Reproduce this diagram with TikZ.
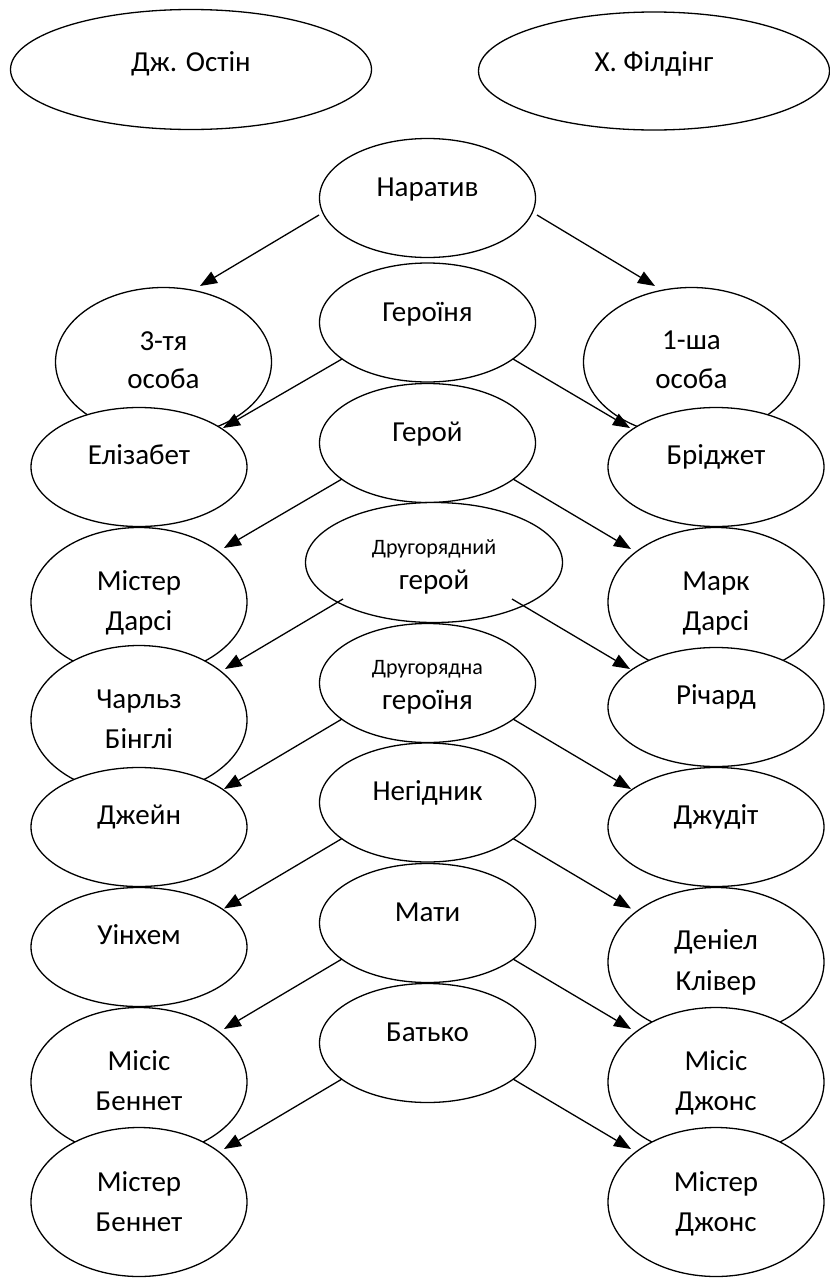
\documentclass[tikz,border=0pt]{standalone}
\usepackage{fontspec}
\setmainfont{Carlito}
\usetikzlibrary{shapes.geometric,arrows.meta,calc}
\tikzset{
  ell/.style={ellipse, draw, line width=1.3pt, fill=white, inner sep=0pt,
    minimum width=216pt, minimum height=119pt},
  tall/.style={minimum height=149pt},
  t/.style={font=\fontsize{29}{29}\selectfont, text height=18.6pt, text depth=0pt, inner sep=0pt},
  s/.style={font=\fontsize{22}{22}\selectfont, text height=14.1pt, text depth=0pt, inner sep=0pt},
  arr/.style={line width=1.3pt, -{Triangle[length=17pt,width=13pt]}},
}
\begin{document}
\begin{tikzpicture}[x=1pt,y=-1pt]
\useasboundingbox (0,0) rectangle (830,1280);
% top
\node[ell, minimum width=361pt, minimum height=120pt, label={[t,yshift=7.5pt]center:Дж. Остін}] (ostin) at (191,69.5) {};
\node[ell, minimum width=351pt, minimum height=118pt, label={[t,yshift=9pt]center:Х. Філдінг}] (fild) at (654,71) {};
% middle
\node[ell, label={[t,yshift=11pt]center:Наратив}] (nar) at (427.5,198) {};
\node[ell, label={[t,yshift=10.5pt]center:Героїня}] (her) at (427.5,322.5) {};
\node[ell, label={[t,yshift=11pt]center:Герой}] (geroj) at (427.5,443) {};
\node[ell, minimum width=257pt, minimum height=120pt, label={[s,yshift=15.5pt]center:Другорядний}, label={[t,yshift=-17.5pt]center:герой}] (dg) at (434,562.5) {};
\node[ell, label={[s,yshift=16pt]center:Другорядна}, label={[t,yshift=-17pt]center:героїня}] (dgn) at (427.5,683) {};
\node[ell, label={[t,yshift=11pt]center:Негідник}] (neg) at (427.5,802.5) {};
\node[ell, label={[t,yshift=11pt]center:Мати}] (mati) at (427.5,923) {};
\node[ell, label={[t,yshift=11pt]center:Батько}] (bat) at (427.5,1043) {};
% left column
\node[ell, tall, label={[t,yshift=21pt]center:3-тя}, label={[t,yshift=-17pt]center:особа}] (tretia) at (163.5,362) {};
\node[ell, label={[t,yshift=12pt]center:Елізабет}] (eliz) at (139,467) {};
\node[ell, tall, label={[t,yshift=21pt]center:Містер}, label={[t,yshift=-19pt]center:Дарсі}] (mdarsi) at (139,602) {};
\node[ell, tall, label={[t,yshift=21pt]center:Чарльз}, label={[t,yshift=-19pt]center:Бінглі}] (charlz) at (139,720) {};
\node[ell, label={[t,yshift=12pt]center:Джейн}] (dzhejn) at (139,827) {};
\node[ell, label={[t,yshift=12pt]center:Уінхем}] (uinh) at (139,947) {};
\node[ell, tall, label={[t,yshift=21pt]center:Місіс}, label={[t,yshift=-19pt]center:Беннет}] (misisb) at (139,1082) {};
\node[ell, tall, label={[t,yshift=20pt]center:Містер}, label={[t,yshift=-20pt]center:Беннет}] (misterb) at (139,1202) {};
% right column
\node[ell, tall, label={[t,yshift=22pt]center:1-ша}, label={[t,yshift=-17pt]center:особа}] (persha) at (691.5,362) {};
\node[ell, label={[t,yshift=12pt]center:Бріджет}] (bridzh) at (716,467) {};
\node[ell, tall, label={[t,yshift=21pt]center:Марк}, label={[t,yshift=-19pt]center:Дарсі}] (mark) at (716,602) {};
\node[ell, label={[t,yshift=12pt]center:Річард}] (richard) at (716,707) {};
\node[ell, label={[t,yshift=12pt]center:Джудіт}] (dzhudit) at (716,827) {};
\node[ell, tall, label={[t,yshift=22pt]center:Деніел}, label={[t,yshift=-19pt]center:Клівер}] (deniel) at (716,962) {};
\node[ell, tall, label={[t,yshift=21pt]center:Місіс}, label={[t,yshift=-19pt]center:Джонс}] (misisdzh) at (716,1082) {};
\node[ell, tall, label={[t,yshift=20pt]center:Містер}, label={[t,yshift=-20pt]center:Джонс}] (misterdzh) at (716,1202) {};
% arrows
\draw[arr] ($(nar.center)+(-108.5,17)$) -- ($(tretia.center)+(36.5,-76)$);
\draw[arr] ($(nar.center)+(109.5,17)$) -- ($(persha.center)+(-36.5,-76)$);
\draw[arr] ($(her.center)+(-85.5,36.5)$) -- ($(eliz.center)+(84,-39)$);
\draw[arr] ($(her.center)+(85.5,36.5)$) -- ($(bridzh.center)+(-86,-39)$);
\draw[arr] ($(geroj.center)+(-85.5,36)$) -- ($(mdarsi.center)+(85,-54)$);
\draw[arr] ($(geroj.center)+(85.5,36)$) -- ($(mark.center)+(-85,-53)$);
\draw[arr] ($(dg.center)+(-91,36.5)$) -- ($(charlz.center)+(86,-51)$);
\draw[arr] ($(dg.center)+(78,36.5)$) -- ($(richard.center)+(-86,-38)$);
\draw[arr] ($(dgn.center)+(-85.5,36)$) -- ($(dzhejn.center)+(85,-38)$);
\draw[arr] ($(dgn.center)+(85.5,36)$) -- ($(dzhudit.center)+(-85,-38)$);
\draw[arr] ($(neg.center)+(-85.5,36)$) -- ($(uinh.center)+(85,-38.5)$);
\draw[arr] ($(neg.center)+(85.5,36)$) -- ($(deniel.center)+(-85,-53.5)$);
\draw[arr] ($(mati.center)+(-85.5,36)$) -- ($(misisb.center)+(85,-53)$);
\draw[arr] ($(mati.center)+(85.5,36)$) -- ($(misisdzh.center)+(-85,-53)$);
\draw[arr] ($(bat.center)+(-85.5,36)$) -- ($(misterb.center)+(85,-53)$);
\draw[arr] ($(bat.center)+(85.5,36)$) -- ($(misterdzh.center)+(-85,-53)$);
\end{tikzpicture}
\end{document}
